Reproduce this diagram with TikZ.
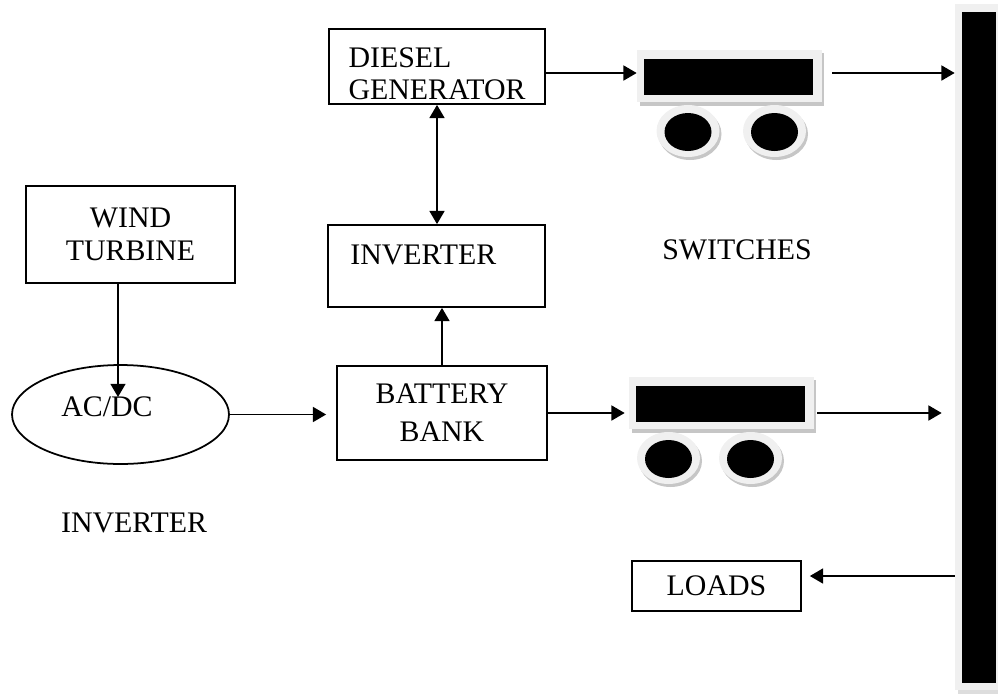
\documentclass[tikz,border=0pt]{standalone}
\usepackage{fontspec}
\setmainfont{Liberation Serif}
\usetikzlibrary{arrows.meta,shapes.geometric}
\definecolor{framegrey}{HTML}{F0F0F0}
\definecolor{shadowgrey}{HTML}{C6C6C6}
\begin{document}
\begin{tikzpicture}[x=0.02cm,y=-0.02cm,
	blok/.style={draw,line width=1pt,fill=white,inner sep=0pt,align=center,font=\fontsize{17}{19}\selectfont},
	txt/.style={inner sep=0pt,font=\fontsize{17}{19}\selectfont},
	conn/.style={line width=1pt,-{Triangle[length=7.5pt,width=8.5pt]}},
	dconn/.style={line width=1pt,{Triangle[length=7.5pt,width=8.5pt]}-{Triangle[length=7.5pt,width=8.5pt]}},
	swframe/.style={inner sep=0pt,minimum width=3.7cm,minimum height=1.04cm}
	]
	\useasboundingbox (0,0) rectangle (998,694);
	% blocks
	\node[blok,minimum width=4.32cm,minimum height=1.5cm] (dsl) at (437,66.5) {};
	\node[txt,align=left,font=\fontsize{17}{18.5}\selectfont] (dsltxt) at (437,74) {DIESEL\\GENERATOR};
	\node[blok,minimum width=4.34cm,minimum height=1.64cm] (inv) at (436.5,266) {};
	\node[txt,anchor=west] (invtxt) at (350,255) {INVERTER};
	\node[blok,minimum width=4.2cm,minimum height=1.88cm,font=\fontsize{17}{21.5}\selectfont] (bat) at (442,413) {BATTERY\\BANK};
	\node[blok,minimum width=4.18cm,minimum height=1.94cm] (wind) at (130.5,234.5) {WIND\\TURBINE};
	\node[blok,ellipse,minimum width=4.34cm,minimum height=1.98cm] (acdc) at (120.5,414.5) {};
	\node[txt] (acdctxt) at (107,407) {AC/DC};
	\node[txt] (acdclbl) at (134,523) {INVERTER};
	\node[blok,minimum width=3.38cm,minimum height=1cm] (loads) at (716.5,586) {LOADS};
	\node[txt] (swlbl) at (737,250) {SWITCHES};
	% bus bar
	\fill[shadowgrey!60] (958,8) rectangle (998,694);
	\node[inner sep=0pt,fill=framegrey,minimum width=0.86cm,minimum height=13.72cm] (bus) at (976.5,347) {};
	\fill (962,12) rectangle (996,683);
	% switches
	\foreach \nm/\x/\y/\wa/\wb in {swa/637/50/51/137.5,swb/629/377/39.5/121.5}{
		\fill[shadowgrey] (\x+3,\y+3) rectangle (\x+187,\y+56);
		\node[swframe,fill=framegrey] (\nm) at (\x+92.5,\y+26) {};
		\fill (\x+7,\y+9) rectangle (\x+176,\y+45);
		\foreach \dx in {\wa,\wb}{
			\fill[shadowgrey] (\x+\dx+2,\y+84) ellipse [x radius=31.5,y radius=26];
			\fill[framegrey] (\x+\dx,\y+81) ellipse [x radius=31.5,y radius=26];
			\fill (\x+\dx,\y+82) ellipse [x radius=23.5,y radius=19];
		}
	}
	% connectors
	\coordinate (acin) at (118,397);
	\draw[conn] (acin |- wind.south) -- (acin);
	\draw[conn,shorten >=0.2cm] (acdc.east) -- (acdc.east -| bat.west);
	\draw[conn] (bat.north) -- (bat.north |- inv.south);
	\draw[dconn] (dsl.south) -- (dsl.south |- inv.north);
	\draw[conn] ([yshift=0.06cm]swa.west -| dsl.east) -- ([yshift=0.06cm]swa.west);
	\draw[conn,shorten <=0.2cm] ([yshift=0.06cm]swa.east) -- ([yshift=0.06cm]swa.east -| bus.west);
	\draw[conn,shorten >=0.08cm] (bat.east) -- (bat.east -| swb.west);
	\draw[conn,shorten <=0.06cm,shorten >=0.26cm] (bat.east -| swb.east) -- (bat.east -| bus.west);
	\draw[conn,shorten >=0.16cm] ([yshift=0.2cm]loads.east -| bus.west) -- ([yshift=0.2cm]loads.east);
\end{tikzpicture}
\end{document}
